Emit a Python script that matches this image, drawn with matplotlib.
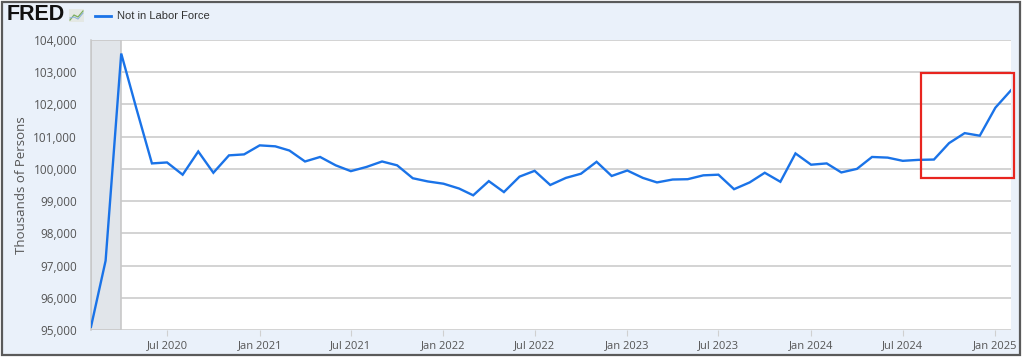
import pandas as pd
import matplotlib
matplotlib.use("Agg")
import matplotlib.pyplot as plt
import matplotlib.dates as mdates
from matplotlib.patches import Rectangle
from matplotlib.lines import Line2D
from matplotlib.ticker import FuncFormatter

# monthly, Feb 2020 .. Feb 2025 (thousands of persons)
start_month = "2020-02-01"
not_in_lf = [
    95100, 97150, 103580, 101880, 100170, 100200, 99820, 100540, 99880, 100420, 100450,
    100730, 100700, 100570, 100230, 100370, 100110, 99930, 100060, 100230, 100110, 99710, 99610,
    99540, 99390, 99180, 99620, 99280, 99760, 99940, 99500, 99720, 99850, 100220, 99780,
    99950, 99720, 99580, 99670, 99680, 99800, 99820, 99370, 99580, 99880, 99600, 100480,
    100130, 100170, 99890, 100000, 100370, 100350, 100250, 100280, 100290, 100800, 101110, 101030,
    101900, 102440,
]
recession = ("2020-02-01", "2020-04-01")
y_ticks = list(range(95000, 104001, 1000))
x_ticks = ["2020-07-01", "2021-01-01", "2021-07-01", "2022-01-01", "2022-07-01",
           "2023-01-01", "2023-07-01", "2024-01-01", "2024-07-01", "2025-01-01"]

dates = pd.date_range(start_month, periods=len(not_in_lf), freq="MS")

W, H = 1025, 358
fig = plt.figure(figsize=(W / 100, H / 100), dpi=100, facecolor="white")

def px(x0, y0, x1, y1):
    # pixel box (top-left origin) -> figure fraction rect
    return [x0 / W, 1 - y1 / H, (x1 - x0) / W, (y1 - y0) / H]

# outer frame
r = px(2, 2, 1020, 355)
fig.patches.append(Rectangle((r[0], r[1]), r[2], r[3], transform=fig.transFigure,
                             facecolor="#eaf1fa", edgecolor="#5a5a5a", lw=1.6, zorder=-5))

ax = fig.add_axes(px(91, 40, 1011, 330))
ax.set_zorder(1)
ax.set_facecolor("white")
ax.axvspan(pd.Timestamp(recession[0]), pd.Timestamp(recession[1]),
           facecolor="#e1e5ea", edgecolor="#c8c8c8", lw=1.2, zorder=1)
ax.plot(dates, not_in_lf, color="#1a73e8", lw=1.7, zorder=3, solid_joinstyle="miter")

ax.set_xlim(dates[0], dates[-1])
ax.set_ylim(95000, 104000)
ax.set_yticks(y_ticks)
ax.yaxis.set_major_formatter(FuncFormatter(lambda v, p: f"{int(v):,}"))
ax.set_xticks([pd.Timestamp(t) for t in x_ticks])
ax.xaxis.set_major_formatter(mdates.DateFormatter("%b %Y"))
ax.grid(axis="y", color="#c8c8c8", lw=1.1, zorder=0)
ax.set_axisbelow(True)
for s in ["top", "right", "bottom"]:
    ax.spines[s].set_visible(False)
ax.spines["left"].set_color("#c8c8c8")
ax.spines["left"].set_linewidth(1.1)
ax.tick_params(axis="y", length=0, pad=10, labelsize=8.5, labelcolor="#555555")
ax.tick_params(axis="x", length=4, color="#d0d0d0", pad=3, labelsize=8, labelcolor="#555555")
for lab in ax.get_xticklabels():
    lab.set_fontfamily("Open Sans")
for lab in ax.get_yticklabels():
    lab.set_fontfamily("Open Sans")
ax.set_ylabel("Thousands of Persons", fontsize=9.5, color="#555555", family="Open Sans", labelpad=4)

# header: FRED logo + legend
fig.text(7 / W, 1 - 15 / H, "FRED", fontsize=15.5, fontweight="heavy", family="Liberation Sans",
         color="#111111", va="center", ha="left")
ib = px(69, 9, 84, 22)
fig.patches.append(Rectangle((ib[0], ib[1]), ib[2], ib[3], transform=fig.transFigure,
                             facecolor="#e4e8e4", edgecolor="none"))
fig.lines.append(Line2D([70 / W, 74 / W, 78 / W, 83 / W], [1 - 20 / H, 1 - 15 / H, 1 - 17 / H, 1 - 11 / H],
                        transform=fig.transFigure, color="#7cae5a", lw=0.9))
fig.lines.append(Line2D([70 / W, 74 / W, 78 / W, 83 / W], [1 - 18 / H, 1 - 17 / H, 1 - 19 / H, 1 - 13 / H],
                        transform=fig.transFigure, color="#8fb3d9", lw=0.8))
fig.lines.append(Line2D([95 / W, 111 / W], [1 - 16 / H, 1 - 16 / H], transform=fig.transFigure,
                        color="#1a73e8", lw=2))
fig.text(117 / W, 1 - 16 / H, "Not in Labor Force", fontsize=8, family="Liberation Sans",
         color="#333333", va="center", ha="left")

# highlight box
rb = px(921, 73, 1014, 178)
fig.patches.append(Rectangle((rb[0], rb[1]), rb[2], rb[3], transform=fig.transFigure,
                             facecolor="none", edgecolor="#e8251f", lw=1.6, zorder=10))

fig.savefig("out.png", dpi=100, facecolor="white")
